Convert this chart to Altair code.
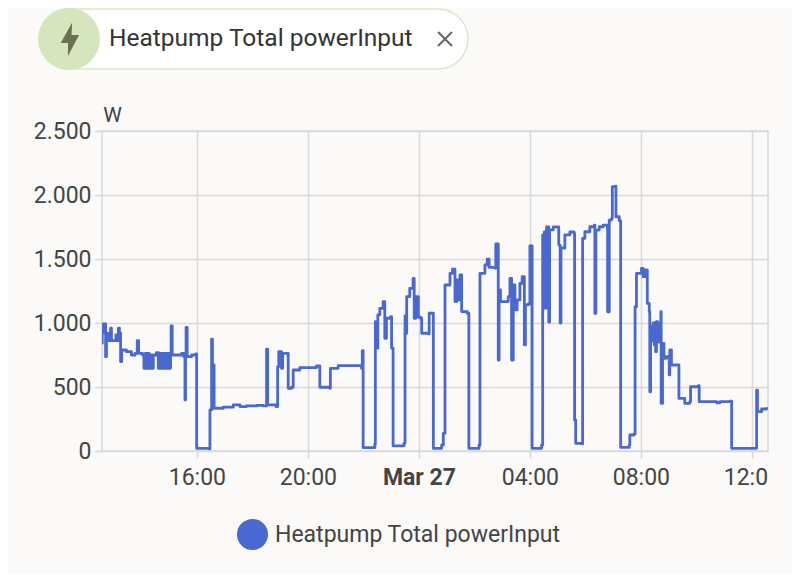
import altair as alt
import pandas as pd

SERIES = "Heatpump Total powerInput"
# hours relative to midnight of Mar 27
hours = [-11.46,-11.41,-11.38,-11.33,-11.29,-11.26,-11.20,-11.11,-11.08,-10.96,-10.92,-10.87,-10.83,-10.79,-10.75,-10.71,
-10.54,-10.36,-10.23,-10.15,-10.10,-9.96,-9.91,-9.86,-9.81,-9.77,-9.72,-9.67,-9.62,-9.57,-9.46,-9.39,-9.35,-9.30,-9.25,-9.20,-9.15,-9.11,-9.06,-8.99,-8.95,-8.93,-8.89,
-8.73,-8.55,-8.47,-8.43,-8.41,-8.39,-8.35,-8.19,-8.04,-8.01,-7.56,-7.53,-7.47,-7.44,-7.39,-7.38,-7.05,-6.69,-6.45,-6.21,-5.85,-5.61,-5.51,-5.49,-5.45,-5.15,-5.09,-5.05,
-4.95,-4.91,-4.77,-4.71,-4.59,-4.53,-4.29,-3.69,-3.57,-3.21,-3.19,-3.03,-2.91,-2.07,-2.04,-2.01,-1.59,
-1.57,-1.53,-1.48,-1.41,-1.29,-1.23,-1.17,-1.02,-0.985,-0.93,-0.54,-0.50,-0.48,-0.44,-0.33,-0.21,-0.17,-0.11,-0.02,0.06,0.10,0.34,0.37,0.48,0.52,0.82,0.88,0.94,
1.12,1.21,1.30,1.36,1.39,1.48,1.54,1.74,1.80,2.17,2.20,2.38,2.46,2.53,2.74,2.77,2.86,2.89,2.94,3.22,3.28,3.34,3.40,3.46,3.54,3.64,3.72,3.80,3.84,3.94,4.00,4.08,4.42,
4.46,4.48,4.52,4.54,4.60,4.64,4.68,4.71,4.84,4.99,5.04,5.09,5.12,5.26,5.44,5.59,5.61,5.65,5.86,5.90,5.98,6.16,6.32,6.34,6.38,6.50,6.64,6.79,6.80,6.86,6.94,6.97,7.09,7.10,7.22,7.27,7.58,7.60,7.75,
7.79,7.84,8.02,8.08,8.14,8.23,8.30,8.32,8.35,8.40,8.44,8.48,8.50,8.53,8.56,8.60,8.64,8.68,8.72,8.73,8.78,8.83,8.92,9.02,9.04,9.10,9.34,9.37,9.58,9.76,9.79,10.07,10.10,10.73,10.85,11.21,11.27,12.11,12.17,12.20,12.35,12.53]
watts = [842,920,993,993,737,920,862,959,862,862,907,862,959,920,698,789,
776,750,763,862,763,750,646,763,646,763,646,750,646,750,769,646,763,646,763,646,763,646,763,646,763,977,750,
750,763,737,399,737,966,737,750,758,21,16,321,873,334,672,334,342,360,347,352,357,352,352,795,360,347,659,776,
646,763,763,490,498,633,651,664,498,490,646,646,667,646,784,26,52,
1011,803,1063,1115,1167,881,1037,1050,803,40,60,1055,920,1206,1271,1349,1037,1206,1045,1037,920,915,1076,1076,21,47,138,1297,
1388,1420,1167,1336,1180,1375,1089,1076,21,47,1388,1454,1498,1435,1428,1618,711,1258,1167,1206,1349,711,1297,1102,1180,1310,1362,829,1141,1149,1602,21,47,
1688,1547,1711,1117,1750,1750,1008,1727,1750,1750,1609,1000,1586,1688,1711,1700,242,60,55,1661,1713,1752,1765,1075,1726,1752,1765,1739,1088,1804,1817,2065,2070,1830,1799,28,47,125,133,
1127,1388,1427,1362,1414,1153,1088,463,971,860,1000,830,1000,776,1010,850,1000,900,1088,372,841,724,737,594,789,672,672,411,372,385,502,510,385,377,385,390,21,21,476,307,328,341]

y_ticks = [0, 500, 1000, 1500, 2000, 2500]

BG = "#fbfaf8"
BLUE = "#4a69d0"
GRID = "#d9d9d9"
TEXT = "#444444"
FONT = "Roboto"

base = pd.Timestamp("2024-03-27T00:00:00", tz="UTC")
def ms(h):
    return int((base + pd.Timedelta(hours=h)).value // 10**6)

df = pd.DataFrame({
    "time": [ms(h) for h in hours],
    "power": watts,
    "series": [SERIES] * len(hours),
})
x_domain = [ms(-11.42), ms(12.58)]
x_ticks = [ms(h) for h in (-8, -4, 0, 4, 8, 12)]

x_axis = alt.Axis(
    title=None, values=x_ticks,
    labelExpr="utchours(datum.value)==0 ? 'Mar 27' : utcFormat(datum.value,'%H:%M')",
    labelFontWeight={"condition": {"test": "utchours(datum.value)==0", "value": "bold"}, "value": "normal"},
    grid=True, gridColor=GRID, gridWidth=1.5, tickColor=GRID, tickWidth=1.5, tickSize=7,
    domain=False, labelPadding=8, labelFontSize=23, labelColor=TEXT, labelFont=FONT, labelFlush=False, labelOverlap=False,
)
y_axis = alt.Axis(
    title="W", titleAngle=0, titleX=10, titleY=-6, titleAlign="center", titleFontWeight="normal",
    titleFont=FONT, titleFontSize=21, titleColor=TEXT,
    values=y_ticks, labelExpr="replace(format(datum.value, ','), ',', '.')",
    grid=True, gridColor=GRID, gridWidth=1.5, tickColor=GRID, tickWidth=1.5, tickSize=8,
    domain=False, labelPadding=3, labelFontSize=23, labelColor=TEXT, labelFont=FONT,
)

line = alt.Chart(df).mark_line(strokeWidth=2.8, clip=True, interpolate="step-after", strokeJoin="round").encode(
    x=alt.X("time:T", axis=x_axis, scale=alt.Scale(type="utc", domain=x_domain)),
    y=alt.Y("power:Q", axis=y_axis, scale=alt.Scale(domain=[0, 2500], nice=False)),
    color=alt.Color("series:N", scale=alt.Scale(range=[BLUE]), legend=alt.Legend(
        title=None, orient="none", legendX=135, legendY=388, labelLimit=400,
        symbolType="circle", symbolSize=961, symbolFillColor=BLUE, symbolStrokeColor=BLUE, symbolStrokeWidth=0,
        labelFont=FONT, labelFontSize=23, labelColor=TEXT, labelOffset=7,
    )),
)

one = alt.Data(values=[{"label": SERIES}])

chip = alt.Chart(one).mark_rect(fill="white", stroke="#dbe8c8", strokeWidth=1.5, cornerRadius=30).encode(
    x=alt.value(-62), x2=alt.value(366), y=alt.value(-122), y2=alt.value(-62))
badge = alt.Chart(one).mark_point(filled=True, shape="circle", size=3844, fill="#d5e5bc", opacity=1, strokeWidth=0).encode(
    x=alt.value(-33), y=alt.value(-92))
bolt = alt.Chart(one).mark_point(
    filled=True, size=1156, fill="#6b7055", opacity=1, strokeWidth=0,
    shape="M.18,-.96L-.49,.24L-.06,.24L-.06,1L.59,-.24L.15,-.24Z").encode(
    x=alt.value(-33), y=alt.value(-92))
chip_text = alt.Chart(one).mark_text(align="left", baseline="middle", font=FONT, fontSize=24.5, color="#333333").encode(
    x=alt.value(7), y=alt.value(-92), text="label:N")
close = alt.Chart(one).mark_point(
    filled=False, size=196, stroke="#666666", strokeWidth=2, opacity=1,
    shape="M-1,-1L1,1M-1,1L1,-1").encode(x=alt.value(343), y=alt.value(-92))
# hides what the right plot edge cuts off the last tick label
edge = alt.Chart(one).mark_rect(fill=BG, strokeWidth=0).encode(
    x=alt.value(666.5), x2=alt.value(690), y=alt.value(330), y2=alt.value(370))

chart = alt.layer(line, edge, chip, badge, bolt, chip_text, close).properties(
    width=666, height=320, background=BG,
    autosize=alt.AutoSizeParams(type="none"),
    padding={"left": 94, "top": 123, "right": 24, "bottom": 123},
).configure_view(stroke=GRID, strokeWidth=1.5)

chart.save("out.html", embed_options={"renderer": "svg", "actions": False})
